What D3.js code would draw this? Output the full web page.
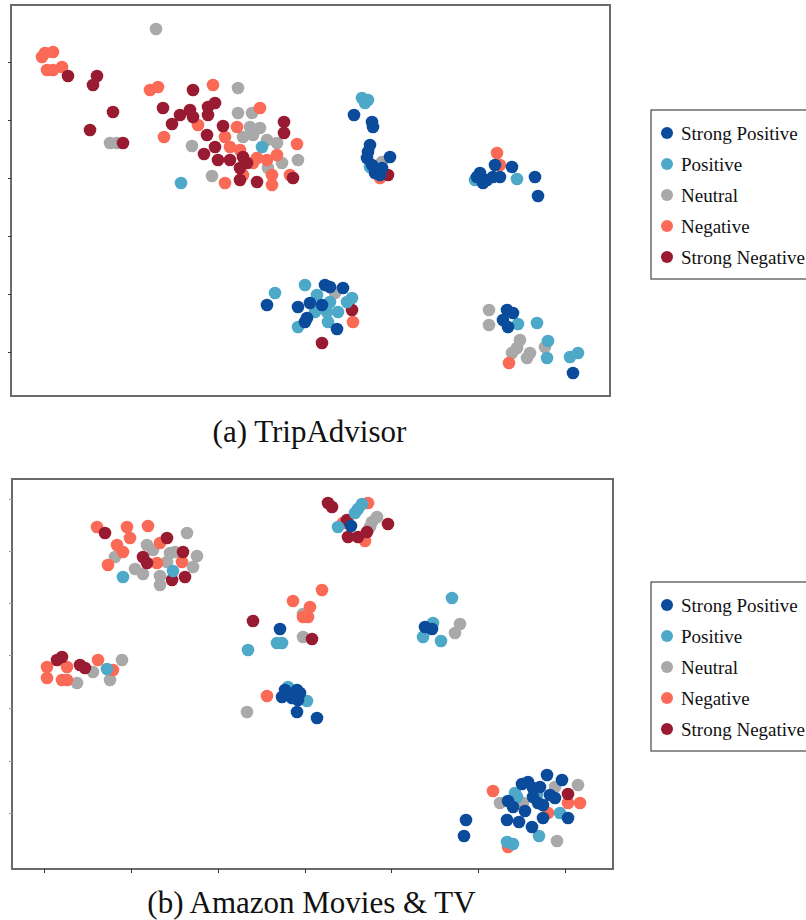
<!DOCTYPE html>
<html>
<head>
<meta charset="utf-8">
<script src="https://cdn.jsdelivr.net/npm/d3@7"></script>
<style>
  html, body { margin: 0; padding: 0; background: #fff; }
  svg { display: block; }
</style>
</head>
<body>
<svg id="chart" width="806" height="920"></svg>
<script>
// Sentiment classes, legend order and colours
const classes = ["Strong Positive", "Positive", "Neutral", "Negative", "Strong Negative"];
const classColors = ["#0b4b9b", "#4ea9c9", "#a9a9a9", "#fb6a56", "#981b31"];
// drawing order of the classes (later ones sit on top)
const drawOrder = ["Neutral", "Negative", "Strong Negative", "Positive", "Strong Positive"];

// (a) TripAdvisor: 2-D embedding coordinates per class, [x, y]
const tripStrongPositive = [
  [343,281],[361,274],[362,269],[359,251],[357,244],[356,238],[379,239],[361,231],[371,228],[364,223],[369,221],
  [484,231],[469,223],[476,216],[472,213],[482,219],[489,219],[466,219],[501,229],[524,219],[527,200],
  [256,91],[314,111],[319,109],[332,108],[287,89],[299,93],[311,91],[296,78],[294,74],[326,67],
  [496,86],[502,83],[492,76],[497,69],[562,23]
];
const tripPositive = [
  [251,249],[170,213],[351,298],[357,296],[354,293],[359,229],[506,217],[464,216],
  [264,103],[294,111],[306,101],[341,98],[336,94],[319,94],[316,84],[327,84],[304,84],[287,69],[317,74],
  [507,72],[526,73],[537,55],[536,38],[559,39],[567,43]
];
const tripNeutral = [
  [145,367],[99,253],[106,253],[227,308],[227,283],[241,283],[239,269],[249,268],[232,259],[242,261],
  [256,256],[266,253],[181,250],[271,233],[257,228],[287,236],[201,220],[371,234],
  [324,103],
  [478,86],[478,71],[509,56],[506,48],[501,43],[519,43],[516,38],[534,49]
];
const tripNegative = [
  [34,343],[42,344],[31,339],[36,326],[42,326],[51,329],
  [139,306],[147,309],[202,311],[187,271],[226,269],[249,288],[153,259],[214,259],[219,249],[229,246],
  [286,252],[246,238],[256,236],[266,241],[242,233],[232,221],[261,221],[279,221],[214,213],[261,211],
  [369,218],[486,243],[489,231],[342,74],[498,33]
];
const tripStrongNegative = [
  [57,320],[86,320],[82,311],[102,284],[79,266],[112,253],[182,306],[152,288],[169,281],[161,272],
  [179,286],[182,279],[197,289],[204,293],[197,281],[212,270],[273,274],[273,263],[196,261],[204,249],
  [193,242],[207,236],[219,236],[232,239],[236,233],[229,228],[282,218],[246,214],[229,216],
  [377,221],[341,86],[311,53]
];

// (b) Amazon Movies & TV: 2-D embedding coordinates per class, [x, y]
const amazonStrongPositive = [
  [339,343],[268,240],[413,242],[420,240],
  [273,179],[285,179],[288,176],[270,172],[280,171],[286,169],[285,157],[305,151],
  [496,68],[501,62],[513,58],[495,49],[507,47],[520,42],[510,85],[516,87],[521,81],[528,82],
  [535,94],[550,89],[538,74],[543,71],[521,72],[526,66],[531,64],[531,51],[556,51],[454,49],[452,33]
];
const amazonPositive = [
  [161,298],[111,292],[95,200],
  [350,365],[346,360],[343,356],[326,342],
  [265,226],[270,226],[236,219],[276,182],[295,168],
  [440,271],[421,246],[411,232],[429,228],
  [503,76],[505,72],[525,74],[548,56],[527,33],[495,27],[501,25]
];
const amazonNeutral = [
  [175,336],[135,324],[141,319],[103,312],[158,316],[163,317],[155,307],[185,313],[181,302],
  [123,300],[131,295],[148,293],[148,284],
  [110,209],[81,197],[98,189],[65,186],
  [291,255],[291,232],[235,157],
  [360,347],[365,352],[358,342],
  [448,245],[443,236],
  [488,66],[543,82],[566,84],[511,66],[545,28]
];
const amazonNegative = [
  [85,342],[115,342],[136,343],[118,331],[148,326],[105,324],[111,317],[96,304],[145,306],[170,307],
  [35,202],[55,202],[86,209],[35,191],[50,189],[55,189],[101,199],
  [281,268],[298,262],[291,252],[310,279],[296,252],[255,173],
  [356,366],[331,346],[353,328],
  [481,78],[556,66],[568,66],[536,56],[496,22]
];
const amazonStrongNegative = [
  [93,336],[155,331],[131,312],[135,306],[171,317],[173,292],[160,289],
  [50,212],[45,209],[68,204],[73,201],
  [241,248],[300,230],
  [316,366],[320,362],[335,349],[336,332],[346,332],[355,337],[376,345],
  [556,75]
];

// Tick positions along the embedding axes (unlabelled)
const tripYTicks = [44, 102, 160, 218, 276, 334];
const amazonXTicks = [32, 119, 206, 293, 379, 466, 553];
const amazonYTicks = [56, 108, 161, 214, 266, 318, 370];

const captions = ["(a) TripAdvisor", "(b) Amazon Movies & TV"];

const svg = d3.select("#chart");
const colorOf = d3.scaleOrdinal().domain(classes).range(classColors);
const serif = "'Liberation Serif', 'Times New Roman', Times, serif";

const panels = [
  {
    caption: captions[0],
    box: {x: 11, y: 5, w: 599, h: 391},
    xDomain: [0, 599], yDomain: [0, 391],
    yTicks: tripYTicks, xTicks: null,
    series: {
      "Strong Positive": tripStrongPositive, "Positive": tripPositive, "Neutral": tripNeutral,
      "Negative": tripNegative, "Strong Negative": tripStrongNegative
    },
    captionY: 442, legendY: 110
  },
  {
    caption: captions[1],
    box: {x: 12, y: 479, w: 601, h: 390},
    xDomain: [0, 601], yDomain: [0, 390],
    yTicks: amazonYTicks, xTicks: amazonXTicks, faintY: true,
    series: {
      "Strong Positive": amazonStrongPositive, "Positive": amazonPositive, "Neutral": amazonNeutral,
      "Negative": amazonNegative, "Strong Negative": amazonStrongNegative
    },
    captionY: 913, legendY: 582
  }
];

panels.forEach(p => {
  const b = p.box;
  const x = d3.scaleLinear().domain(p.xDomain).range([b.x, b.x + b.w]);
  const y = d3.scaleLinear().domain(p.yDomain).range([b.y + b.h, b.y]);
  const g = svg.append("g");

  // frame
  g.append("rect")
    .attr("x", b.x).attr("y", b.y).attr("width", b.w).attr("height", b.h)
    .attr("fill", "#fff").attr("stroke", "#6a6a6a").attr("stroke-width", 2);

  // ticks
  if (p.yTicks) {
    const ax = g.append("g").attr("transform", `translate(${b.x},0)`)
      .call(d3.axisLeft(y).tickValues(p.yTicks).tickSize(3).tickFormat(""));
    ax.select(".domain").remove();
    ax.selectAll("line").attr("stroke", p.faintY ? "#999" : "#333").attr("stroke-width", 1);
  }
  if (p.xTicks) {
    const ax = g.append("g").attr("transform", `translate(0,${b.y + b.h})`)
      .call(d3.axisBottom(x).tickValues(p.xTicks).tickSize(4).tickFormat(""));
    ax.select(".domain").remove();
    ax.selectAll("line").attr("stroke", "#333").attr("stroke-width", 1);
  }

  // points
  drawOrder.forEach(cls => {
    g.append("g").selectAll("circle")
      .data(p.series[cls])
      .join("circle")
      .attr("cx", d => x(d[0]))
      .attr("cy", d => y(d[1]))
      .attr("r", 6.3)
      .attr("fill", colorOf(cls));
  });

  // caption
  svg.append("text")
    .attr("x", b.x + b.w / 2 - 1).attr("y", p.captionY)
    .attr("text-anchor", "middle")
    .attr("font-family", serif)
    .attr("font-size", 31).attr("fill", "#111")
    .text(p.caption);

  // legend
  const lg = svg.append("g").attr("transform", `translate(651,${p.legendY})`);
  lg.append("rect").attr("x", 0).attr("y", 0).attr("width", 160).attr("height", 169)
    .attr("fill", "#fff").attr("stroke", "#222").attr("stroke-width", 1);
  classes.forEach((cls, i) => {
    const cy = 23 + i * 31;
    lg.append("circle").attr("cx", 16).attr("cy", cy).attr("r", 6).attr("fill", colorOf(cls));
    lg.append("text").attr("x", 30).attr("y", cy + 6.5)
      .attr("font-family", serif)
      .attr("font-size", 19).attr("fill", "#111")
      .text(cls);
  });
});
</script>
</body>
</html>
